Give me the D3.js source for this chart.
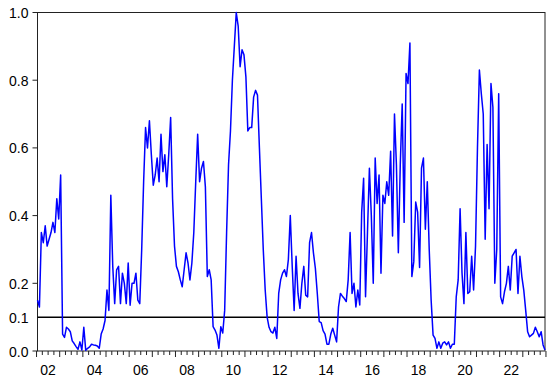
<!DOCTYPE html>
<html>
<head>
<meta charset="utf-8">
<script src="https://cdn.jsdelivr.net/npm/d3@7"></script>
<style>
  body { margin: 0; background: #fff; }
  text { font-family: "Liberation Sans", Arial, sans-serif; font-size: 14px; fill: #000; }
</style>
</head>
<body>
<svg width="550" height="383"></svg>
<script>
// monthly series, first observation 2002M01
var startYear = 2002;
var values = [
  0.15, 0.13, 0.35, 0.32, 0.37, 0.31, 0.33, 0.35, 0.38, 0.35, 0.45, 0.39,
  0.52, 0.05, 0.04, 0.07, 0.065, 0.057, 0.03, 0.022, 0.013, 0.005, 0.027, 0.003,
  0.07, 0.002, 0.008, 0.012, 0.02, 0.018, 0.017, 0.015, 0.008, 0.05, 0.065, 0.09,
  0.18, 0.12, 0.46, 0.25, 0.14, 0.24, 0.25, 0.14, 0.23, 0.2, 0.14, 0.26,
  0.135, 0.2, 0.2, 0.23, 0.15, 0.14, 0.3, 0.5, 0.66, 0.6, 0.68, 0.58,
  0.49, 0.52, 0.57, 0.5, 0.64, 0.53, 0.58, 0.485, 0.58, 0.69, 0.45, 0.31,
  0.25, 0.234, 0.21, 0.19, 0.24, 0.29, 0.26, 0.21, 0.26, 0.35, 0.5, 0.64,
  0.5, 0.54, 0.56, 0.485, 0.22, 0.24, 0.21, 0.072, 0.062, 0.047, 0.008, 0.072,
  0.053, 0.12, 0.35, 0.55, 0.65, 0.8, 0.9, 1.0, 0.96, 0.84, 0.89, 0.875,
  0.81, 0.65, 0.66, 0.66, 0.75, 0.77, 0.756, 0.6, 0.45, 0.3, 0.18, 0.1,
  0.07, 0.057, 0.053, 0.07, 0.037, 0.17, 0.21, 0.23, 0.24, 0.22, 0.27, 0.4,
  0.25, 0.12, 0.28, 0.17, 0.126, 0.2, 0.25, 0.165, 0.16, 0.32, 0.35, 0.29,
  0.244, 0.17, 0.087, 0.084, 0.06, 0.05, 0.02, 0.02, 0.05, 0.067, 0.047, 0.027,
  0.13, 0.17, 0.162, 0.155, 0.146, 0.21, 0.35, 0.17, 0.2, 0.13, 0.18, 0.136,
  0.41, 0.51, 0.16, 0.35, 0.54, 0.4, 0.2, 0.57, 0.436, 0.52, 0.23, 0.46,
  0.436, 0.5, 0.46, 0.59, 0.34, 0.7, 0.55, 0.29, 0.55, 0.73, 0.38, 0.82,
  0.79, 0.91, 0.22, 0.264, 0.44, 0.41, 0.247, 0.54, 0.57, 0.36, 0.5, 0.3,
  0.15, 0.047, 0.037, 0.008, 0.027, 0.008, 0.023, 0.027, 0.018, 0.027, 0.008, 0.02,
  0.02, 0.16, 0.21, 0.42, 0.23, 0.14, 0.35, 0.17, 0.175, 0.28, 0.18, 0.31,
  0.6, 0.83, 0.76, 0.7, 0.33, 0.61, 0.42, 0.79, 0.72, 0.2, 0.3, 0.76,
  0.16, 0.14, 0.175, 0.2, 0.25, 0.18, 0.28, 0.29, 0.3, 0.17, 0.28, 0.22,
  0.18, 0.12, 0.057, 0.042, 0.047, 0.052, 0.07, 0.057, 0.042, 0.057, 0.018, 0.003
];
var yTicks = [0.0, 0.1, 0.2, 0.4, 0.6, 0.8, 1.0];
var yMajor = [0.0, 0.2, 0.4, 0.6, 0.8, 1.0];
var threshold = 0.1;
var yearLabels = ['02', '04', '06', '08', '10', '12', '14', '16', '18', '20', '22'];

var plotLeft = 37.5, plotRight = 545, plotTop = 12.5, plotBottom = 351;

var svg = d3.select('svg');

var x = d3.scaleLinear().domain([0, values.length - 1]).range([plotLeft, plotRight]);
var y = d3.scaleLinear().domain([0, 1]).range([plotBottom, plotTop]);

// frame
svg.append('rect')
  .attr('x', plotLeft).attr('y', plotTop)
  .attr('width', plotRight - plotLeft).attr('height', plotBottom - plotTop)
  .attr('fill', 'none').attr('stroke', '#222').attr('stroke-width', 1);

// y axis
var yAxis = d3.axisLeft(y).tickValues(yTicks).tickSize(0).tickPadding(9)
  .tickFormat(d3.format('.1f'));
var gy = svg.append('g').attr('transform', 'translate(' + plotLeft + ',0)').call(yAxis);
gy.select('.domain').remove();
gy.selectAll('text').style('font-size', '14px').attr('dy', '0.36em');
svg.append('g').selectAll('line')
  .data(yMajor).enter().append('line')
  .attr('x1', plotLeft - 5).attr('x2', plotLeft)
  .attr('y1', function(d) { return y(d); }).attr('y2', function(d) { return y(d); })
  .attr('stroke', '#222');

// x axis: quarterly ticks, labels every second year
var quarters = d3.range(0, values.length + 1, 3);
svg.append('g').selectAll('line')
  .data(quarters).enter().append('line')
  .attr('x1', function(d) { return x(d - 0.5); })
  .attr('x2', function(d) { return x(d - 0.5); })
  .attr('y1', plotBottom)
  .attr('y2', function(d) { return plotBottom + (d % 12 === 0 ? 6 : 4); })
  .attr('stroke', '#222');

svg.append('g').selectAll('text')
  .data(yearLabels).enter().append('text')
  .attr('x', function(d) { return x((+d + 2000 - startYear) * 12 + 5.5); })
  .attr('y', 375)
  .attr('text-anchor', 'middle')
  .text(function(d) { return d; });

// reference line at 0.1
svg.append('line')
  .attr('x1', plotLeft).attr('x2', plotRight)
  .attr('y1', y(threshold)).attr('y2', y(threshold))
  .attr('stroke', '#000').attr('stroke-width', 1.5);

// the series
var line = d3.line()
  .x(function(d, i) { return x(i); })
  .y(function(d) { return y(d); });

svg.append('path')
  .datum(values)
  .attr('d', line)
  .attr('fill', 'none')
  .attr('stroke', '#0000ff')
  .attr('stroke-width', 1.5)
  .attr('stroke-linejoin', 'round');
</script>
</body>
</html>
